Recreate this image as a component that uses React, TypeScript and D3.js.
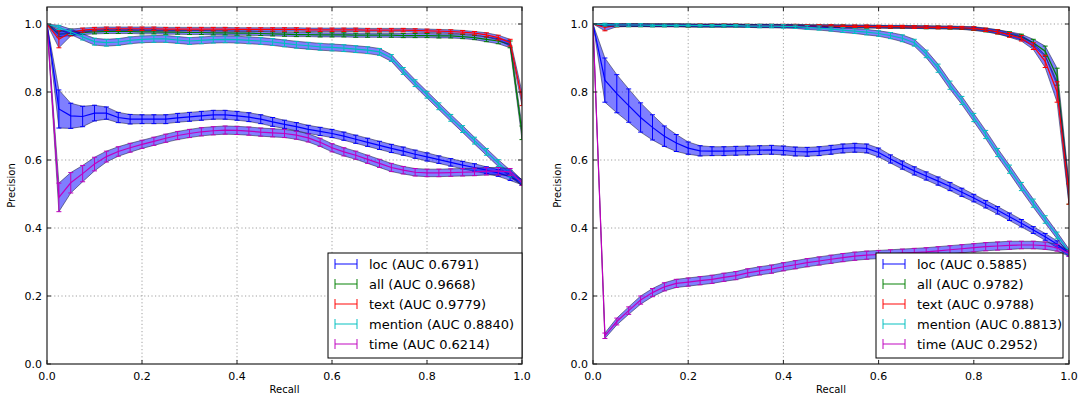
import React from "react";
import * as d3 from "d3";

const RECALL = [0, 0.025, 0.05, 0.075, 0.1, 0.125, 0.15, 0.175, 0.2, 0.225, 0.25, 0.275, 0.3, 0.325, 0.35, 0.375, 0.4, 0.425, 0.45, 0.475, 0.5, 0.525, 0.55, 0.575, 0.6, 0.625, 0.65, 0.675, 0.7, 0.725, 0.75, 0.775, 0.8, 0.825, 0.85, 0.875, 0.9, 0.925, 0.95, 0.975, 1.0];

// Left panel
const L_LOC = [1.0, 0.75, 0.73, 0.728, 0.738, 0.738, 0.725, 0.72, 0.72, 0.72, 0.72, 0.724, 0.727, 0.73, 0.733, 0.733, 0.73, 0.726, 0.72, 0.712, 0.705, 0.698, 0.69, 0.684, 0.678, 0.67, 0.661, 0.652, 0.643, 0.634, 0.626, 0.617, 0.609, 0.601, 0.593, 0.585, 0.578, 0.57, 0.562, 0.55, 0.535];
const L_LOC_ERR = [0, 0.056, 0.037, 0.03, 0.023, 0.018, 0.015, 0.014, 0.013, 0.013, 0.013, 0.013, 0.013, 0.013, 0.013, 0.013, 0.013, 0.013, 0.013, 0.013, 0.012, 0.012, 0.012, 0.012, 0.012, 0.012, 0.012, 0.012, 0.012, 0.012, 0.012, 0.012, 0.012, 0.011, 0.011, 0.011, 0.011, 0.01, 0.01, 0.01, 0.008];
const L_ALL = [1.0, 0.97, 0.972, 0.975, 0.977, 0.978, 0.978, 0.978, 0.977, 0.977, 0.976, 0.976, 0.975, 0.975, 0.974, 0.974, 0.973, 0.973, 0.972, 0.971, 0.97, 0.969, 0.969, 0.968, 0.968, 0.968, 0.967, 0.967, 0.967, 0.967, 0.966, 0.966, 0.966, 0.965, 0.965, 0.963, 0.96, 0.955, 0.95, 0.94, 0.68];
const L_ALL_ERR = [0, 0.008, 0.006, 0.006, 0.006, 0.006, 0.006, 0.006, 0.006, 0.006, 0.006, 0.006, 0.006, 0.006, 0.006, 0.006, 0.006, 0.006, 0.006, 0.006, 0.006, 0.006, 0.006, 0.006, 0.006, 0.006, 0.006, 0.006, 0.006, 0.006, 0.006, 0.006, 0.006, 0.006, 0.006, 0.006, 0.006, 0.007, 0.008, 0.01, 0.02];
const L_TEXT = [1.0, 0.955, 0.975, 0.982, 0.985, 0.986, 0.986, 0.986, 0.986, 0.986, 0.985, 0.985, 0.985, 0.985, 0.985, 0.985, 0.984, 0.984, 0.984, 0.984, 0.984, 0.984, 0.983, 0.983, 0.983, 0.983, 0.983, 0.982, 0.982, 0.982, 0.982, 0.981, 0.98, 0.979, 0.978, 0.976, 0.973, 0.968, 0.96, 0.945, 0.78];
const L_TEXT_ERR = [0, 0.025, 0.01, 0.006, 0.005, 0.005, 0.005, 0.005, 0.005, 0.005, 0.005, 0.005, 0.005, 0.005, 0.005, 0.005, 0.005, 0.005, 0.005, 0.005, 0.005, 0.005, 0.005, 0.005, 0.005, 0.005, 0.005, 0.005, 0.005, 0.005, 0.005, 0.005, 0.005, 0.005, 0.005, 0.005, 0.005, 0.006, 0.007, 0.01, 0.02];
const L_MENTION = [1.0, 0.99, 0.977, 0.962, 0.948, 0.945, 0.947, 0.952, 0.955, 0.956, 0.956, 0.953, 0.95, 0.952, 0.954, 0.955, 0.954, 0.952, 0.95, 0.947, 0.943, 0.939, 0.936, 0.933, 0.931, 0.929, 0.926, 0.923, 0.918, 0.9, 0.862, 0.826, 0.792, 0.758, 0.724, 0.691, 0.657, 0.624, 0.591, 0.56, 0.533];
const L_MENTION_ERR = [0, 0.006, 0.008, 0.009, 0.01, 0.01, 0.01, 0.01, 0.01, 0.01, 0.01, 0.01, 0.01, 0.01, 0.01, 0.01, 0.01, 0.01, 0.01, 0.01, 0.01, 0.01, 0.01, 0.01, 0.01, 0.01, 0.01, 0.01, 0.01, 0.01, 0.01, 0.01, 0.01, 0.01, 0.01, 0.01, 0.01, 0.01, 0.01, 0.01, 0.008];
const L_TIME = [1.0, 0.49, 0.533, 0.56, 0.588, 0.61, 0.625, 0.636, 0.646, 0.655, 0.664, 0.672, 0.678, 0.683, 0.686, 0.688, 0.687, 0.685, 0.682, 0.68, 0.678, 0.673, 0.665, 0.652, 0.636, 0.624, 0.614, 0.602, 0.59, 0.578, 0.57, 0.564, 0.562, 0.562, 0.563, 0.564, 0.565, 0.567, 0.567, 0.565, 0.533];
const L_TIME_ERR = [0, 0.042, 0.03, 0.024, 0.02, 0.016, 0.014, 0.013, 0.012, 0.012, 0.012, 0.012, 0.012, 0.012, 0.012, 0.012, 0.012, 0.012, 0.012, 0.012, 0.012, 0.012, 0.012, 0.012, 0.012, 0.012, 0.012, 0.012, 0.012, 0.012, 0.011, 0.011, 0.011, 0.011, 0.011, 0.011, 0.011, 0.011, 0.011, 0.01, 0.008];

// Right panel
const R_LOC = [1.0, 0.835, 0.795, 0.76, 0.725, 0.696, 0.67, 0.65, 0.635, 0.627, 0.626, 0.626, 0.627, 0.628, 0.629, 0.63, 0.628, 0.625, 0.624, 0.626, 0.63, 0.634, 0.636, 0.634, 0.622, 0.603, 0.585, 0.568, 0.553, 0.538, 0.522, 0.505, 0.488, 0.47, 0.452, 0.433, 0.414, 0.394, 0.374, 0.352, 0.325];
const R_LOC_ERR = [0, 0.065, 0.056, 0.049, 0.043, 0.037, 0.03, 0.025, 0.018, 0.015, 0.013, 0.013, 0.013, 0.013, 0.013, 0.013, 0.013, 0.013, 0.013, 0.013, 0.013, 0.013, 0.013, 0.013, 0.013, 0.012, 0.012, 0.012, 0.012, 0.012, 0.012, 0.012, 0.011, 0.011, 0.011, 0.011, 0.011, 0.01, 0.01, 0.01, 0.008];
const R_ALL = [1.0, 0.997, 0.996, 0.996, 0.996, 0.996, 0.996, 0.996, 0.995, 0.995, 0.995, 0.995, 0.995, 0.995, 0.994, 0.994, 0.994, 0.994, 0.993, 0.993, 0.993, 0.993, 0.992, 0.992, 0.992, 0.991, 0.991, 0.991, 0.99, 0.99, 0.989, 0.988, 0.986, 0.982, 0.977, 0.97, 0.962, 0.945, 0.92, 0.845, 0.5];
const R_ALL_ERR = [0, 0.004, 0.004, 0.004, 0.004, 0.004, 0.004, 0.004, 0.004, 0.004, 0.004, 0.004, 0.004, 0.004, 0.004, 0.004, 0.004, 0.004, 0.004, 0.004, 0.004, 0.004, 0.004, 0.004, 0.004, 0.004, 0.004, 0.004, 0.004, 0.004, 0.004, 0.004, 0.005, 0.005, 0.006, 0.007, 0.008, 0.01, 0.015, 0.025, 0.03];
const R_TEXT = [1.0, 0.99, 0.996, 0.997, 0.997, 0.997, 0.997, 0.997, 0.996, 0.996, 0.996, 0.996, 0.996, 0.995, 0.995, 0.995, 0.995, 0.995, 0.994, 0.994, 0.994, 0.993, 0.993, 0.993, 0.992, 0.992, 0.992, 0.991, 0.991, 0.99, 0.99, 0.989, 0.987, 0.983, 0.977, 0.968, 0.958, 0.935, 0.89, 0.8, 0.5];
const R_TEXT_ERR = [0, 0.01, 0.004, 0.004, 0.004, 0.004, 0.004, 0.004, 0.004, 0.004, 0.004, 0.004, 0.004, 0.004, 0.004, 0.004, 0.004, 0.004, 0.004, 0.004, 0.004, 0.004, 0.004, 0.004, 0.004, 0.004, 0.004, 0.004, 0.004, 0.004, 0.004, 0.004, 0.005, 0.005, 0.006, 0.007, 0.008, 0.01, 0.018, 0.03, 0.03];
const R_MENTION = [1.0, 0.998, 0.997, 0.997, 0.997, 0.996, 0.996, 0.996, 0.996, 0.995, 0.995, 0.995, 0.995, 0.994, 0.994, 0.994, 0.993, 0.992, 0.99, 0.988, 0.985, 0.982, 0.979, 0.976, 0.972, 0.966, 0.958, 0.945, 0.912, 0.87, 0.82, 0.775, 0.725, 0.675, 0.622, 0.573, 0.522, 0.473, 0.425, 0.378, 0.33];
const R_MENTION_ERR = [0, 0.004, 0.004, 0.004, 0.004, 0.004, 0.004, 0.004, 0.004, 0.004, 0.004, 0.004, 0.004, 0.004, 0.005, 0.005, 0.005, 0.005, 0.006, 0.006, 0.006, 0.007, 0.007, 0.008, 0.008, 0.009, 0.01, 0.01, 0.011, 0.012, 0.012, 0.012, 0.012, 0.012, 0.012, 0.012, 0.012, 0.012, 0.011, 0.01, 0.008];
const R_TIME = [1.0, 0.083, 0.125, 0.157, 0.188, 0.21, 0.227, 0.237, 0.241, 0.245, 0.249, 0.255, 0.26, 0.268, 0.274, 0.279, 0.286, 0.292, 0.298, 0.303, 0.308, 0.313, 0.317, 0.32, 0.322, 0.324, 0.326, 0.328, 0.33, 0.333, 0.336, 0.339, 0.342, 0.345, 0.347, 0.349, 0.35, 0.35, 0.348, 0.342, 0.325];
const R_TIME_ERR = [0, 0.008, 0.01, 0.011, 0.012, 0.012, 0.012, 0.012, 0.012, 0.012, 0.012, 0.012, 0.012, 0.012, 0.012, 0.012, 0.012, 0.012, 0.012, 0.012, 0.012, 0.012, 0.012, 0.012, 0.012, 0.012, 0.012, 0.012, 0.012, 0.012, 0.012, 0.012, 0.012, 0.012, 0.012, 0.012, 0.011, 0.011, 0.011, 0.01, 0.008];

const SERIES_NAMES = ["loc", "all", "text", "mention", "time"];
const SERIES_COLORS = ["#0000ff", "#008000", "#ff0000", "#00bfbf", "#bf00bf"];
const LEFT_AUC = ["0.6791", "0.9668", "0.9779", "0.8840", "0.6214"];
const RIGHT_AUC = ["0.5885", "0.9782", "0.9788", "0.8813", "0.2952"];
const TICKS = [0, 0.2, 0.4, 0.6, 0.8, 1.0];
const TICK_LABELS = ["0.0", "0.2", "0.4", "0.6", "0.8", "1.0"];

const FONT = "DejaVu Sans, Verdana, sans-serif";

type PanelProps = {
  x0: number;
  x1: number;
  means: number[][];
  errs: number[][];
  aucs: string[];
  legend: { x: number; y: number; w: number; h: number };
};

function Panel({ x0, x1, means, errs, aucs, legend }: PanelProps) {
  const top = 7;
  const bottom = 364;
  const xs = d3.scaleLinear().domain([0, 1]).range([x0, x1]);
  const ys = d3.scaleLinear().domain([0, 1.05]).range([bottom, top]);
  const line = d3
    .line<number>()
    .x((_, i) => xs(RECALL[i]))
    .y((d) => ys(d));
  const clipId = `clip-${x0}`;

  return (
    <g>
      <defs>
        <clipPath id={clipId}>
          <rect x={x0} y={top} width={x1 - x0} height={bottom - top} />
        </clipPath>
      </defs>
      {/* grid */}
      {TICKS.filter((t) => t > 0 && t < 1).map((t) => (
        <line key={"gx" + t} x1={xs(t)} x2={xs(t)} y1={top} y2={bottom} stroke="#888" strokeWidth={0.8} strokeDasharray="1.2,2.4" />
      ))}
      {TICKS.filter((t) => t > 0).map((t) => (
        <line key={"gy" + t} x1={x0} x2={x1} y1={ys(t)} y2={ys(t)} stroke="#888" strokeWidth={0.8} strokeDasharray="1.2,2.4" />
      ))}
      <g clipPath={`url(#${clipId})`}>
        {means.map((m, s) => {
          const e = errs[s];
          const area = d3
            .area<number>()
            .x((_, i) => xs(RECALL[i]))
            .y0((d, i) => ys(d - e[i]))
            .y1((d, i) => ys(d + e[i]));
          const color = SERIES_COLORS[s];
          return (
            <g key={s}>
              <path d={area(m) || ""} fill="#0000ff" fillOpacity={0.5} stroke="#202040" strokeOpacity={0.55} strokeWidth={1} />
              <path d={line(m) || ""} fill="none" stroke={color} strokeWidth={1.2} />
              {m.map((v, i) =>
                e[i] > 0 ? (
                  <g key={i} stroke={color} strokeWidth={1}>
                    <line x1={xs(RECALL[i])} x2={xs(RECALL[i])} y1={ys(v - e[i])} y2={ys(v + e[i])} />
                    <line x1={xs(RECALL[i]) - 2.5} x2={xs(RECALL[i]) + 2.5} y1={ys(v - e[i])} y2={ys(v - e[i])} />
                    <line x1={xs(RECALL[i]) - 2.5} x2={xs(RECALL[i]) + 2.5} y1={ys(v + e[i])} y2={ys(v + e[i])} />
                  </g>
                ) : null
              )}
            </g>
          );
        })}
      </g>
      {/* spines */}
      <rect x={x0} y={top} width={x1 - x0} height={bottom - top} fill="none" stroke="#222" strokeWidth={1.2} />
      {/* ticks */}
      {TICKS.map((t, i) => (
        <g key={"t" + t} stroke="#222" strokeWidth={1}>
          <line x1={xs(t)} x2={xs(t)} y1={bottom} y2={bottom - 4} />
          <line x1={xs(t)} x2={xs(t)} y1={top} y2={top + 4} />
          <line x1={x0} x2={x0 + 4} y1={ys(t)} y2={ys(t)} />
          <line x1={x1} x2={x1 - 4} y1={ys(t)} y2={ys(t)} />
        </g>
      ))}
      {TICKS.map((t, i) => (
        <text key={"xl" + t} x={xs(t)} y={380} textAnchor="middle" fontFamily={FONT} fontSize={11} fill="#000">
          {TICK_LABELS[i]}
        </text>
      ))}
      {TICKS.map((t, i) => (
        <text key={"yl" + t} x={x0 - 5} y={ys(t) + 4} textAnchor="end" fontFamily={FONT} fontSize={11} fill="#000">
          {TICK_LABELS[i]}
        </text>
      ))}
      <text x={(x0 + x1) / 2} y={393} textAnchor="middle" fontFamily={FONT} fontSize={10} fill="#000">
        Recall
      </text>
      <text transform={`translate(${x0 - 32},${(top + bottom) / 2}) rotate(-90)`} textAnchor="middle" fontFamily={FONT} fontSize={10} fill="#000">
        Precision
      </text>
      {/* legend */}
      <rect x={legend.x} y={legend.y} width={legend.w} height={legend.h} fill="#fff" stroke="#000" strokeWidth={1} />
      {SERIES_NAMES.map((n, s) => {
        const cy = legend.y + 11 + s * 20;
        const sx = legend.x + 7;
        const ex = sx + 22;
        return (
          <g key={"lg" + n}>
            <g stroke={SERIES_COLORS[s]} strokeOpacity={0.65} strokeWidth={1.5}>
              <line x1={sx} x2={ex} y1={cy} y2={cy} />
              <line x1={sx} x2={sx} y1={cy - 5} y2={cy + 5} />
              <line x1={ex} x2={ex} y1={cy - 5} y2={cy + 5} />
            </g>
            <text x={legend.x + 41} y={cy + 4.5} fontFamily={FONT} fontSize={13} fill="#000">
              {`${n} (AUC ${aucs[s]})`}
            </text>
          </g>
        );
      })}
    </g>
  );
}

export default function App() {
  return (
    <svg width={1082} height={398} style={{ position: "absolute", left: 0, top: 0, background: "#fff" }}>
      <rect width={1082} height={398} fill="#fff" />
      <Panel
        x0={47}
        x1={522}
        means={[L_LOC, L_ALL, L_TEXT, L_MENTION, L_TIME]}
        errs={[L_LOC_ERR, L_ALL_ERR, L_TEXT_ERR, L_MENTION_ERR, L_TIME_ERR]}
        aucs={LEFT_AUC}
        legend={{ x: 328, y: 253, w: 194, h: 105 }}
      />
      <Panel
        x0={593}
        x1={1069}
        means={[R_LOC, R_ALL, R_TEXT, R_MENTION, R_TIME]}
        errs={[R_LOC_ERR, R_ALL_ERR, R_TEXT_ERR, R_MENTION_ERR, R_TIME_ERR]}
        aucs={RIGHT_AUC}
        legend={{ x: 876, y: 253, w: 187, h: 105 }}
      />
    </svg>
  );
}
